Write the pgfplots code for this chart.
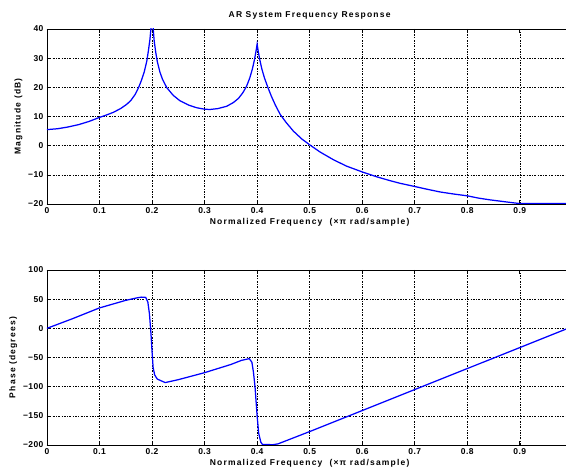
\documentclass[border=0pt]{standalone}
\usepackage{fontspec}
\setmainfont{Liberation Sans}
\newfontfamily\labfont[LetterSpace=14]{Liberation Sans}
\newfontfamily\tickfont[LetterSpace=5]{Liberation Sans}
\usepackage{pgfplots}
\pgfplotsset{compat=1.18}
\pgfplotsset{
  matstyle/.style={
    scale only axis, width=519pt, height=175pt,
    xmin=0, xmax=0.988,
    axis x line*=box, axis y line*=left,
    xtick={0,0.1,0.2,0.3,0.4,0.5,0.6,0.7,0.8,0.9},
    xticklabels={0,0.1,0.2,0.3,0.4,0.5,0.6,0.7,0.8,0.9},
    grid=major,
    major grid style={black, line width=0.5pt, dash pattern=on 2pt off 1.5pt on 0.6pt off 1.5pt},
    tick style={black, line width=0.6pt},
    major tick length=4pt,
    axis line style={black, line width=0.9pt},
    tick label style={font=\tickfont\bfseries\fontsize{8.5}{9}\selectfont},
    label style={font=\labfont\bfseries\fontsize{8.5}{9}\selectfont},
    /pgf/number format/assume math mode=true,
    xlabel={Normalized Frequency\ \ (×π rad/sample)},
    xlabel style={at={(ticklabel cs:0.506)}, anchor=north, yshift=2pt},
    ylabel style={yshift=-1pt},
  }
}
\begin{document}
\begin{tikzpicture}
\begin{axis}[matstyle, at={(47pt,269pt)}, anchor=south west,
  ymin=-20, ymax=40, ytick={-20,-10,0,10,20,30,40},
  yticklabels={−20,−10,0,10,20,30,40},
  ylabel={Magnitude (dB)},
  title={AR System Frequency Response},
  title style={at={(0.506,1)}, anchor=south, font=\labfont\bfseries\fontsize{8.5}{9}\selectfont, yshift=0pt}]
\addplot[blue, line width=1.25pt] coordinates {
(0,5.5) (0.02,5.8) (0.04,6.4) (0.06,7.2) (0.08,8.3) (0.1,9.7) (0.113,10.5)
(0.126,11.4) (0.14,12.7) (0.152,14.2) (0.16,15.6) (0.168,17.6) (0.175,20.2)
(0.18,22.5) (0.185,25.2) (0.19,29) (0.193,32.5) (0.196,36.5) (0.198,40.5)
(0.2,45) (0.202,40.5) (0.204,36) (0.207,32) (0.21,28.8) (0.215,25.2)
(0.22,22.7) (0.228,19.9) (0.24,17.3) (0.253,15.4) (0.27,13.9) (0.285,13.0)
(0.3,12.5) (0.31,12.4) (0.325,12.7) (0.342,13.5) (0.355,14.8) (0.365,16.3)
(0.373,18.2) (0.38,20.4) (0.386,23.2) (0.391,26.3) (0.395,29.5) (0.398,32.5)
(0.4,34.8) (0.402,32.5) (0.405,29.5) (0.409,26.3) (0.414,23.2) (0.42,20.2)
(0.427,17) (0.435,13.8) (0.444,10.7) (0.455,8) (0.469,5) (0.485,2.3)
(0.5,0.3) (0.52,-2.2) (0.545,-4.8) (0.57,-7) (0.6,-9) (0.63,-10.8)
(0.653,-12) (0.672,-12.9) (0.7,-14) (0.725,-15) (0.749,-15.9) (0.775,-16.6)
(0.8,-17.2) (0.822,-18) (0.844,-18.6) (0.866,-19.1) (0.888,-19.6)
(0.9,-19.85) (0.95,-19.85) (1.0,-19.85)
};
\end{axis}
\begin{axis}[matstyle, at={(47pt,28pt)}, anchor=south west,
  ymin=-200, ymax=100, ytick={-200,-150,-100,-50,0,50,100},
  yticklabels={−200,−150,−100,−50,0,50,100},
  ylabel={Phase (degrees)}]
\addplot[blue, line width=1.25pt] coordinates {
(0,0) (0.05,17) (0.1,35) (0.15,48) (0.17,52) (0.18,53.5) (0.188,53)
(0.192,45) (0.195,25) (0.198,-10) (0.2,-40) (0.202,-67) (0.205,-80)
(0.21,-87) (0.225,-93) (0.25,-88) (0.3,-76) (0.35,-62) (0.37,-55)
(0.385,-52) (0.39,-58) (0.393,-75) (0.396,-100) (0.4,-150) (0.403,-180)
(0.407,-195) (0.41,-199) (0.43,-199.5) (0.44,-198) (0.5,-177) (0.6,-141)
(0.7,-105) (0.8,-69) (0.9,-33) (1.0,3)
};
\end{axis}
\pgfresetboundingbox
\path (0pt,0pt) rectangle (566pt,473pt);
\end{tikzpicture}
\end{document}
